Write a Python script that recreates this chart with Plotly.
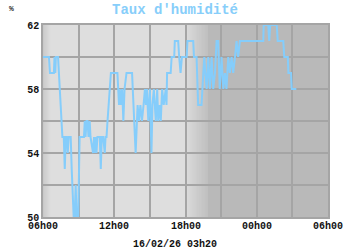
import plotly.graph_objects as go
import pandas as pd

# ---- data (clock time, humidity %) ----
clock = [
    "06:00", "06:30", "06:35", "06:55", "06:58", "07:02", "07:05", "07:16", "07:38", "07:45",
    "07:50", "07:55", "08:00", "08:05", "08:10", "08:20", "08:25", "08:35", "08:40", "08:45",
    "08:50", "08:58", "09:05", "09:27", "09:31", "09:35", "09:40", "09:45", "09:50", "09:56",
    "10:00", "10:13", "10:18", "10:22", "10:26", "10:30", "10:35", "10:47", "10:52", "10:57",
    "11:04", "11:12", "11:16", "11:21", "11:26", "11:32", "11:43", "12:16", "12:20", "12:24",
    "12:28", "12:33", "12:40", "12:46", "12:52", "13:02", "13:30", "13:40", "13:48", "13:58",
    "14:05", "14:12", "14:20", "14:28", "14:35", "14:40", "14:45", "14:52", "15:00", "15:08",
    "15:13", "15:20", "15:25", "15:30", "15:37", "15:42", "15:50", "15:55", "16:02", "16:10",
    "16:20", "16:24", "16:27", "16:45", "16:50", "17:03", "17:06", "17:23", "17:28", "17:35",
    "17:42", "18:06", "18:10", "18:39", "18:43", "18:56", "19:04", "19:21", "19:30", "19:35",
    "19:40", "19:47", "19:55", "20:03", "20:12", "20:20", "20:29", "20:37", "20:45", "20:53",
    "21:02", "21:11", "21:19", "21:27", "21:36", "21:44", "21:53", "22:01", "22:10", "22:18",
    "22:26", "22:35", "22:43", "00:33", "00:35", "00:58", "01:03", "01:08", "01:41", "01:46",
    "02:14", "02:19", "02:37", "02:40", "02:53", "02:57", "03:20",
]
humidity = [
    60, 60, 59, 59, 60, 59, 60, 60, 55, 55,
    53, 55, 55, 54, 55, 55, 53, 50, 50, 52,
    50, 50, 55, 55, 56, 55, 56, 56, 55, 56,
    55, 54, 55, 54, 55, 54, 55, 55, 53, 55,
    55, 54, 55, 55, 56, 57, 59, 59, 58, 57,
    58, 57, 58, 56, 58, 59, 59, 56, 54, 57,
    56, 57, 56, 57, 58, 57, 58, 56, 58, 54,
    57, 58, 57, 56, 58, 56, 57, 56, 58, 57,
    58, 57, 59, 59, 60, 60, 61, 61, 60, 59,
    60, 60, 61, 61, 60, 60, 57, 57, 59, 60,
    59, 58, 60, 58, 60, 58, 59, 61, 61, 58,
    60, 58, 59, 58, 60, 59, 60, 59, 60, 61,
    60, 61, 61, 61, 62, 62, 61, 62, 62, 61,
    61, 60, 60, 59, 59, 58, 58,
]

x_tick_clock = ["06:00", "09:00", "12:00", "15:00", "18:00", "21:00", "00:00", "03:00", "06:00+"]
x_tick_text = ["06h00", "", "12h00", "", "18h00", "", "00h00", "", "06h00"]
y_tick_vals = [50, 52, 54, 56, 58, 60, 62]
y_tick_text = ["50", "", "54", "", "58", "", "62"]

title_text = "Taux d'humidité"
unit_text = "%"
stamp_text = "16/02/26 03h20"

base = pd.Timestamp("2026-02-15")


def to_dt(c):
    nxt = c.endswith("+")
    c = c.rstrip("+")
    h, m = map(int, c.split(":"))
    t = base + pd.Timedelta(hours=h, minutes=m)
    if h < 6 or nxt:
        t += pd.Timedelta(days=1)
    return t


times = [to_dt(c) for c in clock]
x_ticks = [to_dt(c) for c in x_tick_clock]
x_start, x_end = x_ticks[0], x_ticks[-1]

LIGHT = (222, 222, 222)
DARK = (185, 185, 185)
DAWN = (196, 196, 196)


def mix(a, b, f):
    return "rgb(%d,%d,%d)" % tuple(round(a[i] + (b[i] - a[i]) * f) for i in range(3))


shapes = []
# dawn gradient (left edge)
dawn0, dawn1 = to_dt("06:00"), to_dt("06:40")
n = 10
for i in range(n):
    t0 = dawn0 + (dawn1 - dawn0) * i / n
    t1 = dawn0 + (dawn1 - dawn0) * (i + 1) / n
    shapes.append(dict(type="rect", xref="x", yref="paper", x0=t0, x1=t1, y0=0, y1=1,
                       fillcolor=mix(DAWN, LIGHT, (i + 0.5) / n), line_width=0, layer="below"))
# dusk gradient
dusk0, dusk1 = to_dt("18:00"), to_dt("19:50")
n = 22
for i in range(n):
    t0 = dusk0 + (dusk1 - dusk0) * i / n
    t1 = dusk0 + (dusk1 - dusk0) * (i + 1) / n
    shapes.append(dict(type="rect", xref="x", yref="paper", x0=t0, x1=t1, y0=0, y1=1,
                       fillcolor=mix(LIGHT, DARK, ((i + 0.5) / n) ** 0.8), line_width=0, layer="below"))
shapes.append(dict(type="rect", xref="x", yref="paper", x0=dusk1, x1=x_end, y0=0, y1=1,
                   fillcolor=mix(DARK, DARK, 0), line_width=0, layer="below"))

MONO = "Liberation Mono, Courier New, monospace"
TICKFONT = dict(family=MONO, size=10, color="#111111", weight="bold")

annotations = [
    dict(text=unit_text, xref="paper", yref="paper", x=-0.11, y=1.085, xanchor="center",
         yanchor="middle", showarrow=False,
         font=dict(family=MONO, size=8, color="#333333", weight="bold")),
    dict(text=stamp_text, xref="paper", yref="paper", x=0.463, y=-0.145,
         xanchor="center", yanchor="middle", showarrow=False,
         font=dict(family=MONO, size=10, color="#111111", weight="bold")),
]
for t, lab in zip(x_ticks, x_tick_text):
    if lab:
        annotations.append(dict(text=lab, xref="x", yref="paper", x=t, y=-0.05,
                                xanchor="center", yanchor="middle", showarrow=False,
                                font=TICKFONT))

fig = go.Figure()
fig.add_trace(go.Scatter(x=times, y=humidity, mode="lines",
                         line=dict(color="#85cdfb", width=2), hoverinfo="skip"))

fig.update_layout(
    width=350, height=250,
    margin=dict(l=43, r=22, t=25, b=33),
    paper_bgcolor="white",
    plot_bgcolor="rgb(222,222,222)",
    showlegend=False,
    shapes=shapes,
    title=dict(text=title_text, x=0.5, xanchor="center", y=0.962, yanchor="middle",
               font=dict(family=MONO, size=14, color="#87cefa", weight="bold")),
    annotations=annotations,
)
fig.update_xaxes(
    range=[x_start, x_end], tickvals=x_ticks, ticktext=x_tick_text, showticklabels=False,
    showgrid=True, gridcolor="#a5a5a5", gridwidth=1.5,
    showline=True, linecolor="#a5a5a5", linewidth=1.5, mirror=True,
    ticks="", zeroline=False,
)
fig.update_yaxes(
    range=[50, 62], tickvals=y_tick_vals, ticktext=y_tick_text,
    showgrid=True, gridcolor="#a5a5a5", gridwidth=1.5,
    showline=True, linecolor="#a5a5a5", linewidth=1.5, mirror=True,
    ticks="", zeroline=False,
    tickfont=TICKFONT,
)

fig.write_html("out.html")
